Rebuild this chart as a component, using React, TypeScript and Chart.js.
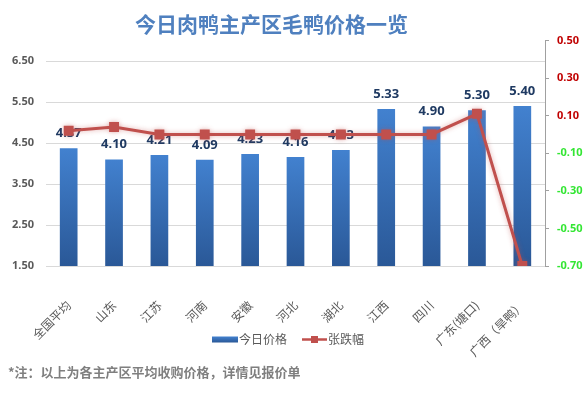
import React, { useEffect, useRef } from "react";
import { Chart, registerables } from "chart.js";

Chart.register(...registerables);

const categories = [
  "全国平均",
  "山东",
  "江苏",
  "河南",
  "安徽",
  "河北",
  "湖北",
  "江西",
  "四川",
  "广东(塘口)",
  "广西（旱鸭）",
];
const todayPrice = [4.37, 4.1, 4.21, 4.09, 4.23, 4.16, 4.33, 5.33, 4.9, 5.3, 5.4];
const priceChange = [0.02, 0.04, 0, 0, 0, 0, 0, 0, 0, 0.11, -0.7];
const priceTicks = [1.5, 2.5, 3.5, 4.5, 5.5, 6.5];
const changeTicks = [-0.7, -0.5, -0.3, -0.1, 0.1, 0.3, 0.5];
const seriesNames = ["今日价格", "张跌幅"];
const titleText = "今日肉鸭主产区毛鸭价格一览";
const noteText = "*注：以上为各主产区平均收购价格，详情见报价单";

const CJK = '"Noto Sans CJK SC", "Noto Sans", sans-serif';
const NUM = '"Noto Sans", "DejaVu Sans", sans-serif';
const LINE_COLOR = "#C0504D";
const BAR_TOP = "#4281CF";
const BAR_BOTTOM = "#2A5897";

const barLabelPlugin = {
  id: "barLabels",
  afterDatasetDraw(chart: any, args: any) {
    if (args.index !== 0) return;
    const ctx = chart.ctx;
    const meta = chart.getDatasetMeta(0);
    ctx.save();
    ctx.font = `bold 13px ${NUM}`;
    ctx.fillStyle = "#1F3A62";
    ctx.textAlign = "center";
    ctx.textBaseline = "middle";
    meta.data.forEach((el: any, i: number) => {
      const v = chart.data.datasets[0].data[i] as number;
      ctx.fillText(v.toFixed(2), el.x, el.y - 15);
    });
    ctx.restore();
  },
};

const lineGlowPlugin = {
  id: "lineGlow",
  beforeDatasetDraw(chart: any, args: any) {
    if (args.index !== 1) return;
    const ctx = chart.ctx;
    ctx.save();
    ctx.shadowColor = "rgba(192,80,77,0.45)";
    ctx.shadowBlur = 5;
  },
  afterDatasetDraw(chart: any, args: any) {
    if (args.index !== 1) return;
    chart.ctx.restore();
  },
};

const legendPlugin = {
  id: "customLegend",
  afterDraw(chart: any) {
    const ctx = chart.ctx;
    const ds = chart.data.datasets;
    const cy = 339.5;
    ctx.save();
    const g = ctx.createLinearGradient(0, cy - 3, 0, cy + 3);
    g.addColorStop(0, BAR_TOP);
    g.addColorStop(1, BAR_BOTTOM);
    ctx.fillStyle = g;
    ctx.fillRect(212, cy - 3, 26, 6);
    ctx.font = `12px ${CJK}`;
    ctx.fillStyle = "#595959";
    ctx.textAlign = "left";
    ctx.textBaseline = "middle";
    ctx.fillText(ds[0].label, 239, cy);
    ctx.strokeStyle = LINE_COLOR;
    ctx.lineWidth = 2.5;
    ctx.beginPath();
    ctx.moveTo(302, cy);
    ctx.lineTo(327, cy);
    ctx.stroke();
    ctx.fillStyle = LINE_COLOR;
    ctx.fillRect(314.5 - 3.5, cy - 3.5, 7, 7);
    ctx.fillStyle = "#595959";
    ctx.fillText(ds[1].label, 328, cy);
    ctx.restore();
  },
};

export default function App() {
  const canvasRef = useRef<HTMLCanvasElement | null>(null);

  useEffect(() => {
    const canvas = canvasRef.current;
    if (!canvas) return;
    const chart = new Chart(canvas, {
      type: "bar",
      data: {
        labels: categories,
        datasets: [
          {
            type: "bar",
            label: seriesNames[0],
            data: todayPrice,
            yAxisID: "y",
            order: 1,
            barPercentage: 0.39,
            categoryPercentage: 1,
            backgroundColor: (c: any) => {
              const chart = c.chart;
              const area = chart.chartArea;
              if (!area || c.type !== "data") return BAR_TOP;
              const ys = chart.scales.y;
              const top = ys.getPixelForValue(c.parsed.y);
              const bottom = area.bottom;
              if (!isFinite(top) || bottom - top < 1) return BAR_TOP;
              const g = chart.ctx.createLinearGradient(0, top, 0, bottom);
              g.addColorStop(0, BAR_TOP);
              g.addColorStop(1, BAR_BOTTOM);
              return g;
            },
          } as any,
          {
            type: "line",
            label: seriesNames[1],
            data: priceChange,
            yAxisID: "y1",
            order: 0,
            borderColor: LINE_COLOR,
            borderWidth: 3,
            tension: 0,
            pointStyle: "rect",
            pointRadius: 7,
            pointBackgroundColor: LINE_COLOR,
            pointBorderColor: LINE_COLOR,
            pointBorderWidth: 0,
          } as any,
        ],
      },
      options: {
        responsive: false,
        animation: false,
        devicePixelRatio: 1,
        layout: { padding: { top: 40.5, bottom: 12, left: 0, right: 0 } },
        plugins: {
          legend: { display: false },
          title: { display: false },
          tooltip: { enabled: false },
        },
        scales: {
          x: {
            grid: { display: false },
            border: { display: false },
            ticks: {
              autoSkip: false,
              maxRotation: 45,
              minRotation: 45,
              padding: 24,
              color: "#595959",
              font: { family: CJK, size: 12 },
            },
            afterFit: (s: any) => {
              s.height = 115;
            },
          },
          y: {
            position: "left",
            min: 1.5,
            max: 7.0,
            afterBuildTicks: (s: any) => {
              s.ticks = priceTicks.map((v) => ({ value: v }));
            },
            grid: { color: "#D9D9D9", drawTicks: false, lineWidth: 1 },
            border: { display: false },
            ticks: {
              padding: 12,
              color: "#595959",
              font: { family: NUM, size: 11, weight: "bold" },
              callback: (v: any) => Number(v).toFixed(2),
            },
            afterFit: (s: any) => {
              s.width = 46;
            },
          },
          y1: {
            position: "right",
            min: -0.7,
            max: 0.5,
            afterBuildTicks: (s: any) => {
              s.ticks = changeTicks.map((v) => ({ value: v }));
            },
            grid: {
              drawOnChartArea: false,
              drawTicks: true,
              tickLength: 4,
              color: "#A0A0A0",
            },
            border: { display: true, color: "#A0A0A0" },
            ticks: {
              padding: 8,
              font: { family: NUM, size: 11, weight: "bold" },
              color: (c: any) => (c.tick && c.tick.value >= 0 ? "#C00000" : "#33E633"),
              callback: (v: any) => Number(v).toFixed(2),
            },
            afterFit: (s: any) => {
              s.width = 41;
            },
          },
        },
      } as any,
      plugins: [barLabelPlugin, lineGlowPlugin, legendPlugin],
    });
    return () => chart.destroy();
  }, []);

  return (
    <div
      style={{
        position: "fixed",
        left: 0,
        top: 0,
        width: 586,
        height: 393,
        background: "#ffffff",
        overflow: "hidden",
      }}
    >
      <canvas
        ref={canvasRef}
        width={586}
        height={393}
        style={{ position: "absolute", left: 0, top: 0, width: 586, height: 393 }}
      />
      <div
        style={{
          position: "absolute",
          left: 135,
          top: 12,
          fontFamily: CJK,
          fontWeight: "bold",
          fontSize: 21,
          lineHeight: "22px",
          color: "#4F80BF",
          whiteSpace: "nowrap",
        }}
      >
        {titleText}
      </div>
      <div
        style={{
          position: "absolute",
          left: 8,
          top: 365,
          fontFamily: CJK,
          fontWeight: "bold",
          fontSize: 13,
          lineHeight: "14px",
          color: "#7F7F7F",
          whiteSpace: "nowrap",
        }}
      >
        {noteText}
      </div>
    </div>
  );
}
